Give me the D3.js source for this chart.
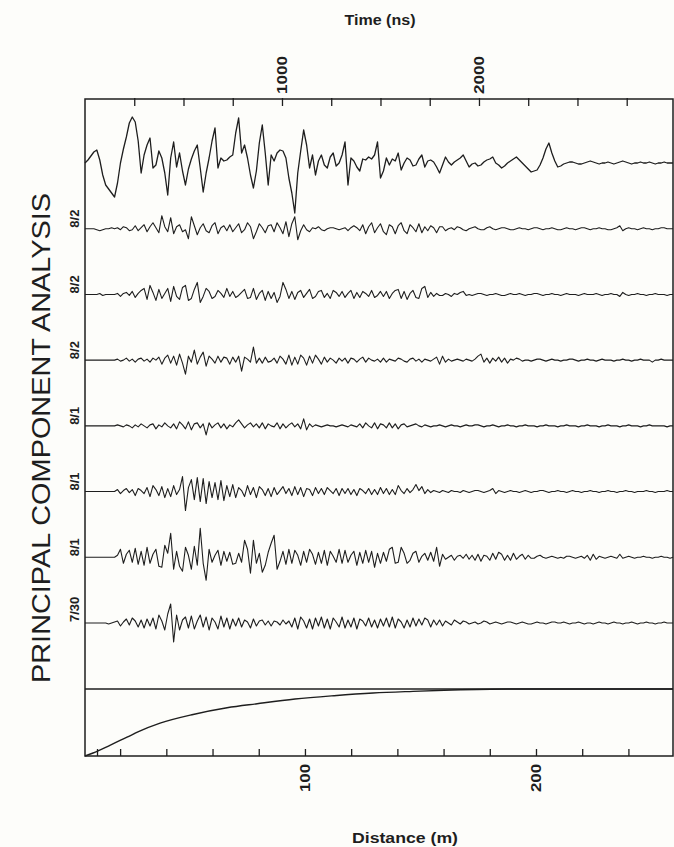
<!DOCTYPE html>
<html><head><meta charset="utf-8">
<script src="https://cdn.jsdelivr.net/npm/d3@7"></script>
<style>body{margin:0;background:#fdfdfa}svg{display:block}</style>
</head><body><svg id="c" width="674" height="847"></svg>
<script>
// ---- data ----
const sampleStepNs = 15;               // time between samples of each trace
const traceLabels = ["", "8/2", "8/2", "8/2", "8/1", "8/1", "8/1", "7/30"];

const trace0 = [
 0,3,7,11,13,3,-12,-22,-26,-30,
 -34,-20,0,14,26,40,46,41,22,-10,
 8,18,25,-5,-2,12,5,-10,-32,5,
 21,-4,10,-8,-22,-6,4,12,18,-5,
 -29,-10,5,22,35,-5,5,2,3,6,
 8,30,45,10,18,5,-12,-25,-8,20,
 38,10,-22,8,2,10,13,12,5,-15,
 -30,-50,-10,12,33,18,-5,8,-12,2,
 8,-2,-5,6,10,-3,0,8,21,-22,
 5,2,-4,-8,4,3,6,4,8,21,
 -15,-8,5,-2,4,2,10,-7,0,5,
 3,-3,-2,4,8,-4,2,3,1,-4,
 -10,-2,6,1,-2,1,3,5,8,2,
 -4,-1,0,-3,-2,1,3,4,6,0,
 -2,-5,-3,0,2,4,6,3,0,-3,
 -6,-9,-8,-7,-2,5,14,20,10,2,
 -4,-3,-1,0,1,1,0,-1,-1,0,
 1,2,1,0,-1,0,0,1,0,-1,
 0,1,2,1,0,-1,0,0,1,0,
 0,1,0,-1,0,0,1,0,0,0];

const trace1 = [
 0,0,0,0,-1,-2,-1,0,0,1,0,
 1,-1,2,1,-2,-1,3,-2,1,4,
 -3,2,6,1,-4,13,2,-3,11,-5,
 2,4,-3,-1,-10,12,3,-6,1,5,
 -2,-4,3,6,-5,1,3,-2,4,-3,
 1,5,-4,-1,6,2,-10,-3,5,1,
 -4,3,4,-3,6,1,-5,7,-8,5,
 12,-11,-2,4,-1,-3,1,0,2,-1,
 -2,0,1,1,0,-1,0,1,-2,1,
 3,1,-2,4,-5,2,6,-4,1,5,
 -3,-6,4,2,-5,3,6,-2,-5,4,
 1,-3,5,-4,2,-2,3,1,-4,2,
 2,-2,0,1,-1,2,1,-1,-2,0,
 1,2,0,-1,-1,1,2,0,-1,0,
 1,1,0,-1,-1,0,1,0,0,-1,
 0,1,1,0,-1,0,0,1,0,-1,
 -1,0,1,0,0,-1,0,1,1,0,
 -1,0,0,1,0,0,-1,-1,0,1,
 3,-2,0,1,0,0,-1,0,1,0,
 0,-1,0,0,1,1,0,0,0];

const trace2 = [
 0,0,0,0,0,1,-1,0,0,0,0,
 1,-2,1,2,-1,3,-3,1,4,6,
 -5,9,2,-6,5,-4,1,6,-7,8,
 -2,-5,7,9,-6,-4,5,12,-8,-2,
 6,3,-4,-2,4,1,-3,6,-2,3,
 -3,-1,2,5,-4,-3,6,-5,1,4,
 -6,3,-4,2,-8,-2,12,5,-4,3,
 -5,2,4,-3,1,5,-4,-2,3,4,
 -3,1,-4,4,2,-2,3,-3,1,4,
 -4,2,-3,3,1,-2,4,-3,-1,3,
 -2,3,-4,1,4,5,-4,3,-5,1,
 4,-3,-4,6,8,-3,2,-2,1,-1,
 -1,1,0,-2,1,0,2,3,-1,0,
 -1,0,1,1,0,-1,0,0,1,0,
 -1,-1,0,1,0,0,1,0,-1,0,
 0,1,1,0,-1,0,0,1,0,0,
 -1,0,1,0,0,0,-1,0,1,0,
 0,0,1,0,-1,0,0,1,0,0,
 -2,2,0,-1,0,0,1,0,0,-1,
 0,0,1,0,0,0,-1,0,0];

const trace3 = [
 0,0,0,0,0,0,0,0,0,0,0,
 1,-1,0,2,-1,1,-2,1,2,-1,
 1,-2,2,0,3,-4,2,5,-3,4,
 -5,6,-3,-14,4,-2,10,-4,3,8,
 -6,4,1,-3,4,-2,3,2,-4,3,
 -2,4,-11,3,1,-2,13,-3,2,-3,
 3,-2,-1,2,-3,4,1,-4,5,-5,
 3,-4,5,2,-5,4,-3,5,1,-4,
 3,-2,2,0,-3,2,-1,2,-3,2,
 1,-2,1,3,-2,2,0,-1,1,-2,
 2,-2,1,0,-1,2,1,-1,-2,1,
 2,-1,1,-2,1,0,-1,1,3,-4,
 4,-2,1,-1,0,1,0,-1,1,0,
 -1,1,4,6,-2,2,-3,2,-1,3,
 -2,2,-3,1,0,2,1,-1,0,0,
 -1,0,1,1,0,-1,0,1,0,0,
 -1,0,0,1,1,0,-1,0,0,1,
 0,0,-1,0,1,0,0,0,-1,0,
 0,1,0,0,-1,0,0,1,0,0,
 0,-2,0,0,1,0,0,0,0];

const trace4 = [
 0,0,0,0,0,0,0,0,0,0,0,
 1,0,-1,1,0,-2,1,-1,2,0,
 -2,1,2,-3,1,-1,3,0,-2,2,
 -3,4,1,-3,4,-4,2,3,-2,2,
 -9,3,-2,1,3,-2,2,-3,1,-1,
 3,6,2,-2,1,3,-1,2,-2,3,
 -3,2,0,-1,3,-3,2,-2,1,3,
 -1,2,-3,7,-4,2,-1,1,0,-1,
 0,1,0,0,-1,0,1,0,-1,1,
 0,-1,2,-2,3,0,-2,3,-3,2,
 1,-2,3,-2,2,-3,1,2,-1,0,
 1,2,0,-1,1,0,-1,0,0,1,
 0,-1,0,1,0,0,-1,0,1,0,
 0,1,1,0,-1,0,0,1,0,-1,
 0,0,1,0,0,-1,0,0,1,0,
 0,0,-1,0,0,1,0,0,0,-1,
 0,0,1,0,0,0,-1,0,0,1,
 0,0,0,-1,0,0,1,0,0,0,
 -1,0,0,1,0,0,0,-1,0,0,
 1,0,0,0,0,0,-1,0,0];

const trace5 = [
 0,0,0,0,0,0,0,0,0,0,0,
 2,-2,1,3,-1,2,-4,3,1,-2,
 4,-5,6,2,-4,5,-6,3,-5,6,
 -3,2,15,-19,4,12,-8,14,-10,13,
 -12,10,-6,9,-8,11,-9,6,-5,7,
 -6,4,1,-5,6,-3,4,-6,5,2,
 -4,3,-5,4,-3,1,5,-2,3,-4,
 5,-3,4,-5,3,2,-4,4,-2,3,
 -3,4,1,-2,3,-4,3,-2,3,-3,
 2,-4,3,1,-2,3,-3,2,-3,4,
 -2,3,-3,2,-3,6,1,-2,3,-1,
 2,7,1,5,-2,2,-1,1,0,-1,
 1,0,-1,1,0,0,-1,1,0,-1,
 0,1,1,0,-1,0,1,3,-2,1,
 0,-1,0,1,0,0,-1,0,1,0,
 -1,0,0,1,1,0,-1,0,0,1,
 0,0,-1,0,1,0,0,-1,0,0,
 1,0,0,-1,0,0,1,0,0,-1,
 0,0,1,0,0,-1,0,0,0,1,
 0,0,-1,0,0,0,1,0,0];

const trace6 = [
 0,0,0,0,0,0,0,0,0,0,0,
 2,8,-6,3,7,-5,9,-7,6,-8,
 10,-6,3,8,-9,-10,12,4,24,-12,
 6,-9,-14,10,2,-12,11,-8,29,-6,
 -23,8,-5,2,7,-8,6,-4,5,-7,
 -6,4,-5,17,8,-16,17,-6,4,-15,
 -8,5,14,22,-12,-4,6,-7,8,-6,
 7,2,-8,6,-5,8,3,-7,5,-6,
 7,-8,6,1,-5,8,-6,7,-5,2,
 6,-8,5,-6,7,-5,6,-10,4,-6,
 5,-4,8,10,-6,-5,10,4,-6,-3,
 4,6,-5,1,4,-3,5,-4,10,-9,
 3,-2,0,2,-3,1,2,-1,3,-2,
 2,-3,3,-4,2,1,-3,4,-2,5,
 3,-3,2,-3,4,-2,1,3,-2,2,
 -1,-1,1,2,0,-1,0,1,0,-1,
 0,-1,1,1,0,-1,0,1,-1,2,
 -3,3,-2,1,0,-1,0,1,0,-1,
 3,-1,0,1,0,-1,0,0,1,0,
 0,-1,0,0,1,0,0,-1,0];

const trace7 = [
 0,0,0,0,0,0,0,0,-1,0,1,
 2,-3,1,4,-2,5,2,-4,3,-5,
 4,-3,5,-6,8,2,-7,9,19,-19,
 8,-7,3,6,-5,7,-6,2,8,-4,
 6,-7,5,1,-6,7,-4,5,-6,4,
 -3,5,-4,3,1,-5,4,-3,2,3,
 -2,2,-3,2,1,-2,3,-1,2,-4,
 5,-6,6,2,-5,4,-6,5,-3,6,
 -5,4,-6,5,1,-4,6,-5,3,-4,
 5,-6,4,2,-3,5,-4,3,-5,4,
 -3,5,-4,6,-5,4,1,-5,3,-4,
 5,-3,4,-2,5,3,-4,3,-2,3,
 -3,2,0,-2,3,1,-1,2,1,-1,
 0,1,-1,0,2,1,-1,0,1,0,
 -1,0,1,1,0,-1,0,1,0,-1,
 -1,0,1,0,0,-1,0,1,1,0,
 0,1,0,-1,0,0,1,0,-1,0,
 0,-1,0,1,0,0,-1,0,1,0,
 0,-1,0,0,1,0,-1,0,0,1,
 0,0,-1,0,0,1,0,0,0];

const traces = [trace0, trace1, trace2, trace3, trace4, trace5, trace6, trace7];

// bottom panel curve: distance (m) vs. relative value
const curveDist = [4.8, 8.3, 15.6, 23, 27.7, 37.3, 51.6, 66.3, 79.3, 95.7, 112.6, 129.5, 146.8, 163.7, 187.5, 259.3];
const curveVal  = [0, 0.045, 0.16, 0.28, 0.36, 0.49, 0.62, 0.72, 0.78, 0.85, 0.90, 0.94, 0.965, 0.985, 1.0, 1.0];

const timeTicks = [250,500,750,1000,1250,1500,1750,2000,2250,2500,2750];
const timeTickLabels = [1000, 2000];
const distTicks = [10,20,40,60,80,100,120,140,160,180,200,220,240];
const distTickLabels = [100, 200];

// ---- drawing ----
const svg = d3.select("#c");
const ink = "#1e1e1e";
const font = "'Liberation Sans', Arial, sans-serif";
const L = 85, R = 673, T = 99, B = 756, SEP = 689;

const xTime = d3.scaleLinear().domain([0, 2985]).range([L, R]);
const xDist = d3.scaleLinear().domain([4.8, 259.3]).range([L, R]);
const yBase = d3.scalePoint().domain(d3.range(traces.length)).range([163, 623]);
const amp = d3.scaleLinear().domain([-50, 50]).range([50, -50]);
const yCurve = d3.scaleLinear().domain([0, 1]).range([B, SEP]);

// frame
const frame = svg.append("g").attr("stroke", ink).attr("stroke-width", 1.5).attr("fill", "none");
frame.append("rect").attr("x", L).attr("y", T).attr("width", R - L).attr("height", B - T);
frame.append("line").attr("x1", L).attr("x2", R).attr("y1", SEP).attr("y2", SEP);

// top time axis (ticks pointing inward)
const topAxis = d3.axisTop(xTime).tickValues(timeTicks).tickSize(-7).tickFormat("");
const gTop = svg.append("g").attr("transform", `translate(0,${T})`).call(topAxis);
gTop.select(".domain").remove();
gTop.selectAll(".tick line").attr("stroke", ink).attr("stroke-width", 1.3).attr("y1", -1);
svg.append("g").selectAll("text").data(timeTickLabels).join("text")
  .attr("transform", d => `translate(${xTime(d)},${T - 5}) rotate(-90)`)
  .attr("dy", "0.36em").attr("text-anchor", "start")
  .attr("font-family", font).attr("font-size", 15).attr("font-weight", "bold").attr("fill", ink)
  .attr("textLength", 38).attr("lengthAdjust", "spacingAndGlyphs")
  .text(d => d);
svg.append("text").attr("x", 380).attr("y", 25).attr("text-anchor", "middle")
  .attr("font-family", font).attr("font-size", 14).attr("font-weight", "bold").attr("fill", ink)
  .attr("textLength", 71).attr("lengthAdjust", "spacingAndGlyphs")
  .text("Time (ns)");

// bottom distance axis
const botAxis = d3.axisBottom(xDist).tickValues(distTicks).tickSize(-7).tickFormat("");
const gBot = svg.append("g").attr("transform", `translate(0,${B})`).call(botAxis);
gBot.select(".domain").remove();
gBot.selectAll(".tick line").attr("stroke", ink).attr("stroke-width", 1.3);
svg.append("g").selectAll("text").data(distTickLabels).join("text")
  .attr("transform", d => `translate(${xDist(d)},${B + 8}) rotate(-90)`)
  .attr("dy", "0.36em").attr("text-anchor", "end")
  .attr("font-family", font).attr("font-size", 15).attr("font-weight", "bold").attr("fill", ink)
  .attr("textLength", 28).attr("lengthAdjust", "spacingAndGlyphs")
  .text(d => d);
svg.append("text").attr("x", 405).attr("y", 843).attr("text-anchor", "middle")
  .attr("font-family", font).attr("font-size", 14).attr("font-weight", "bold").attr("fill", ink)
  .attr("textLength", 106).attr("lengthAdjust", "spacingAndGlyphs")
  .text("Distance (m)");

// traces
const line = d3.line()
  .x((d, i) => xTime(i * sampleStepNs))
  .y(d => amp(d));
const gTr = svg.append("g");
traces.forEach((tr, k) => {
  gTr.append("path")
    .attr("transform", `translate(0,${yBase(k)})`)
    .attr("d", line(tr))
    .attr("fill", "none").attr("stroke", ink)
    .attr("stroke-width", k === 0 ? 1.3 : 1.1)
    .attr("stroke-linejoin", "round");
});

// trace labels
svg.append("g").selectAll("text").data(traceLabels.map((t, k) => ({t, k})).filter(d => d.t))
  .join("text")
  .attr("transform", d => `translate(74,${yBase(d.k) - 1}) rotate(-90)`)
  .attr("dy", "0.36em").attr("text-anchor", "start")
  .attr("font-family", font).attr("font-size", 13).attr("font-weight", "bold").attr("fill", ink)
  .text(d => d.t);

// big vertical title
svg.append("text")
  .attr("transform", `translate(41,683) rotate(-90)`)
  .attr("dy", "0.36em").attr("text-anchor", "start")
  .attr("font-family", font).attr("font-size", 25).attr("fill", ink)
  .attr("textLength", 490).attr("lengthAdjust", "spacingAndGlyphs")
  .text("PRINCIPAL COMPONENT ANALYSIS");

// bottom curve
const curveLine = d3.line().curve(d3.curveMonotoneX)
  .x((d, i) => xDist(curveDist[i])).y(d => yCurve(d));
svg.append("path").attr("d", curveLine(curveVal))
  .attr("fill", "none").attr("stroke", ink).attr("stroke-width", 1.4);
</script></body></html>
